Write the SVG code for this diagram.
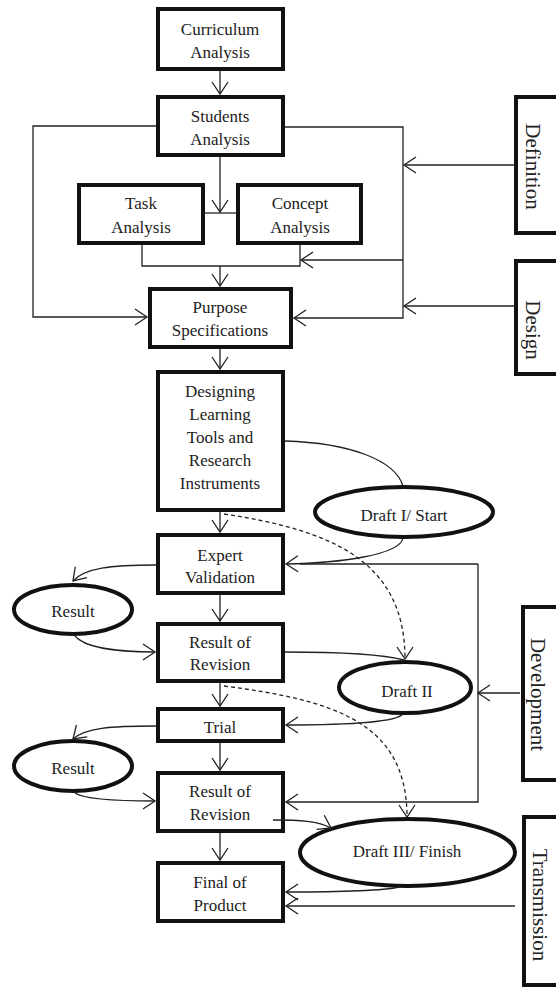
<svg xmlns="http://www.w3.org/2000/svg" width="556" height="989" viewBox="0 0 556 989">
<style>
.box{fill:#fff;stroke:#111;stroke-width:4}
.ell{fill:#fff;stroke:#111;stroke-width:4}
.t{font-family:"Liberation Serif","Times New Roman",serif;font-size:17px;fill:#222;text-anchor:middle}
.v{font-family:"Liberation Serif","Times New Roman",serif;font-size:21px;fill:#222;text-anchor:middle}
.c{fill:none;stroke:#222;stroke-width:1.3}
.d{fill:none;stroke:#222;stroke-width:1.3;stroke-dasharray:4 3}
</style>
<defs>
<marker id="a" markerWidth="15" markerHeight="18" refX="13" refY="9" orient="auto" markerUnits="userSpaceOnUse" viewBox="0 0 15 18"><path d="M1,1 L13,9 L1,17" fill="none" stroke="#222" stroke-width="1.3"/></marker>
</defs>
<rect width="556" height="989" fill="#fff"/>
<g id="curriculum"><rect class="box" x="158" y="9" width="125" height="60"/><text class="t" x="220" y="35">Curriculum</text><text class="t" x="220" y="58">Analysis</text></g>
<g id="students"><rect class="box" x="158" y="97" width="125" height="58"/><text class="t" x="220" y="122">Students</text><text class="t" x="220" y="145">Analysis</text></g>
<g id="task"><rect class="box" x="79" y="185" width="124" height="58"/><text class="t" x="141" y="209">Task</text><text class="t" x="141" y="233">Analysis</text></g>
<g id="concept"><rect class="box" x="238" y="185" width="123" height="58"/><text class="t" x="300" y="209">Concept</text><text class="t" x="300" y="233">Analysis</text></g>
<g id="purpose"><rect class="box" x="150" y="289" width="141" height="58"/><text class="t" x="220" y="313">Purpose</text><text class="t" x="220" y="336">Specifications</text></g>
<g id="designing"><rect class="box" x="158" y="372" width="125" height="138"/><text class="t" x="220" y="397">Designing</text><text class="t" x="220" y="420">Learning</text><text class="t" x="220" y="443">Tools and</text><text class="t" x="220" y="466">Research</text><text class="t" x="220" y="489">Instruments</text></g>
<g id="expert"><rect class="box" x="158" y="535" width="125" height="58"/><text class="t" x="220" y="561">Expert</text><text class="t" x="220" y="583">Validation</text></g>
<g id="revision1"><rect class="box" x="158" y="624" width="125" height="57"/><text class="t" x="220" y="648">Result of</text><text class="t" x="220" y="670">Revision</text></g>
<g id="trial"><rect class="box" x="158" y="709" width="125" height="32"/><text class="t" x="220" y="733">Trial</text></g>
<g id="revision2"><rect class="box" x="158" y="773" width="125" height="58"/><text class="t" x="220" y="797">Result of</text><text class="t" x="220" y="820">Revision</text></g>
<g id="final"><rect class="box" x="158" y="863" width="125" height="58"/><text class="t" x="220" y="888">Final of</text><text class="t" x="220" y="911">Product</text></g>
<g id="draft1"><ellipse class="ell" cx="404" cy="512" rx="89" ry="25"/><text class="t" x="404" y="521">Draft I/ Start</text></g>
<g id="result1"><ellipse class="ell" cx="73" cy="609.5" rx="59" ry="24.5"/><text class="t" x="73" y="617">Result</text></g>
<g id="draft2"><ellipse class="ell" cx="405" cy="687.5" rx="66" ry="25.5"/><text class="t" x="407" y="697">Draft II</text></g>
<g id="result2"><ellipse class="ell" cx="73" cy="766" rx="59" ry="25"/><text class="t" x="73" y="774">Result</text></g>
<g id="draft3"><ellipse class="ell" cx="407.5" cy="852.5" rx="107.5" ry="33.5"/><text class="t" x="407" y="857">Draft III/ Finish</text></g>
<g id="definition"><rect class="box" x="516" y="97" width="50" height="136"/><text class="v" transform="translate(526,166.5) rotate(90)">Definition</text></g>
<g id="design"><rect class="box" x="516" y="261" width="50" height="113"/><text class="v" transform="translate(526,330) rotate(90)">Design</text></g>
<g id="development"><rect class="box" x="523" y="607" width="50" height="173"/><text class="v" transform="translate(531,694.5) rotate(90)">Development</text></g>
<g id="transmission"><rect class="box" x="524" y="817" width="50" height="168"/><text class="v" transform="translate(533,905) rotate(90)">Transmission</text></g>
<g id="connectors">
<path class="c" d="M220,71 V94" marker-end="url(#a)"/>
<path class="c" d="M220,157 V212" marker-end="url(#a)"/>
<path class="c" d="M205,213 H236"/>
<path class="c" d="M142,245 V266 H300 V245"/>
<path class="c" d="M220,266 V286" marker-end="url(#a)"/>
<path class="c" d="M156,126 H33 V317 H147" marker-end="url(#a)"/>
<path class="c" d="M285,127 H403 V318 H294" marker-end="url(#a)"/>
<path class="c" d="M514,165 H404" marker-end="url(#a)"/>
<path class="c" d="M514,306 H404" marker-end="url(#a)"/>
<path class="c" d="M403,260 H301" marker-end="url(#a)"/>
<path class="c" d="M220,349 V369" marker-end="url(#a)"/>
<path class="c" d="M285,441 C350,443 395,460 403,486"/>
<path class="c" d="M220,512 V532" marker-end="url(#a)"/>
<path class="d" d="M224,514 C330,530 405,560 405,659" marker-end="url(#a)"/>
<path class="c" d="M403,538 C400,555 340,563 286,564" marker-end="url(#a)"/>
<path class="c" d="M478,564 H300"/>
<path class="c" d="M478,564 V802 H286" marker-end="url(#a)"/>
<path class="c" d="M520,693 H478" marker-end="url(#a)"/>
<path class="c" d="M156,565 C110,565 85,568 73,581" marker-end="url(#a)"/>
<path class="c" d="M75,636 C85,648 120,652 155,652" marker-end="url(#a)"/>
<path class="c" d="M220,595 V621" marker-end="url(#a)"/>
<path class="c" d="M285,652 C340,652 385,655 404,660"/>
<path class="c" d="M220,683 V706" marker-end="url(#a)"/>
<path class="d" d="M224,686 C330,700 407,720 407,817" marker-end="url(#a)"/>
<path class="c" d="M403,714 C395,723 340,725 286,725" marker-end="url(#a)"/>
<path class="c" d="M156,726 C110,726 85,728 73,739" marker-end="url(#a)"/>
<path class="c" d="M75,793 C85,800 120,801 155,801" marker-end="url(#a)"/>
<path class="c" d="M220,743 V770" marker-end="url(#a)"/>
<path class="c" d="M273,820 C300,820 318,821 331,828" marker-end="url(#a)"/>
<path class="c" d="M220,833 V860" marker-end="url(#a)"/>
<path class="c" d="M400,887 C380,891 330,892 286,892" marker-end="url(#a)"/>
<path class="c" d="M515,906 H286" marker-end="url(#a)"/>
</g>
</svg>
